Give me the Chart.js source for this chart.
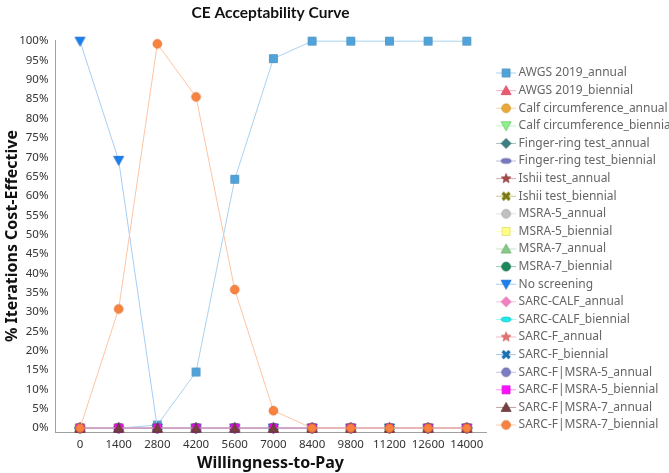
<!DOCTYPE html>
<html>
<head>
<meta charset="utf-8">
<script src="https://cdn.jsdelivr.net/npm/chart.js@4.4.1/dist/chart.umd.min.js"></script>
<style>
  html, body { margin: 0; padding: 0; background: #fff; }
</style>
</head>
<body>
<canvas id="ceac" width="669" height="473"></canvas>
<script>
// Willingness-to-pay thresholds (x axis) and y ticks
const wtpLabels = [0, 1400, 2800, 4200, 5600, 7000, 8400, 9800, 11200, 12600, 14000];
const yTicks = [0, 5, 10, 15, 20, 25, 30, 35, 40, 45, 50, 55, 60, 65, 70, 75, 80, 85, 90, 95, 100];

// % iterations cost-effective per strategy
const awgsAnnual       = [0, 0, 0.8, 14.5, 64.3, 95.5, 100, 100, 100, 100, 100];
const noScreening      = [100, 69.2, 0, 0, 0, 0, 0, 0, 0, 0, 0];
const sarcfMsra7Bien   = [0, 30.8, 99.3, 85.6, 35.8, 4.5, 0, 0, 0, 0, 0];
const neverCE          = [0, 0, 0, 0, 0, 0, 0, 0, 0, 0, 0];

const seriesNames = [
  'AWGS 2019_annual', 'AWGS 2019_biennial', 'Calf circumference_annual', 'Calf circumference_biennial',
  'Finger-ring test_annual', 'Finger-ring test_biennial', 'Ishii test_annual', 'Ishii test_biennial',
  'MSRA-5_annual', 'MSRA-5_biennial', 'MSRA-7_annual', 'MSRA-7_biennial', 'No screening',
  'SARC-CALF_annual', 'SARC-CALF_biennial', 'SARC-F_annual', 'SARC-F_biennial',
  'SARC-F|MSRA-5_annual', 'SARC-F|MSRA-5_biennial', 'SARC-F|MSRA-7_annual', 'SARC-F|MSRA-7_biennial'
];
const seriesValues = [
  awgsAnnual, neverCE, neverCE, neverCE,
  neverCE, neverCE, neverCE, neverCE,
  neverCE, neverCE, neverCE, neverCE, noScreening,
  neverCE, neverCE, neverCE, neverCE,
  neverCE, neverCE, neverCE, sarcfMsra7Bien
];

// marker look: [shape, fill, border, line]
const seriesStyles = [
  ['square',   '#4fa3da', '#3a86b8', '#a9d2ef'],
  ['triangle', '#ec5a72', '#c84058', '#f5b0bc'],
  ['circle',   '#eba83a', '#c88a20', '#f3d6a0'],
  ['invtri',   '#8ef08e', '#5cc05c', '#c6f5c6'],
  ['diamond',  '#3d7f80', '#2a6060', '#9fc0c0'],
  ['ellipse',  '#7878c0', '#5858a0', '#bcbce0'],
  ['star',     '#a84848', '#803030', '#d8a8a8'],
  ['cross',    '#7a7a10', '#7a7a10', '#c8c890'],
  ['circle',   '#c0c0c0', '#a0a0a0', '#e0e0e0'],
  ['square',   '#ffff88', '#d8d860', '#ffffc0'],
  ['triangle', '#88c888', '#60a860', '#c4e4c4'],
  ['circle',   '#1a8a5a', '#106040', '#90c8b0'],
  ['invtri',   '#1a80f0', '#1060c0', '#a8cdf5'],
  ['diamond',  '#f080c0', '#d060a0', '#f8c0e0'],
  ['ellipse',  '#20e8e8', '#10c0c0', '#a0f4f4'],
  ['star',     '#e87070', '#c85050', '#f4b8b8'],
  ['cross',    '#1a70b0', '#1a70b0', '#a0c4e0'],
  ['circle',   '#7c7cc4', '#5c5ca4', '#c0c0e4'],
  ['square',   '#ff10ff', '#d000d0', '#ff90ff'],
  ['triangle', '#744040', '#5a2828', '#c0a0a0'],
  ['circle',   '#f8823e', '#d86a28', '#fcc4a4']
];

// draw one marker shape centred at (0,0)
function drawShape(g, shape, fill, border){
  g.beginPath();
  if(shape === 'square'){
    g.rect(-4, -4, 8, 8);
  } else if(shape === 'triangle'){
    g.moveTo(0, -5); g.lineTo(5, 4); g.lineTo(-5, 4); g.closePath();
  } else if(shape === 'invtri'){
    g.moveTo(0, 5); g.lineTo(5, -4); g.lineTo(-5, -4); g.closePath();
  } else if(shape === 'circle'){
    g.arc(0, 0, 4.4, 0, Math.PI * 2);
  } else if(shape === 'diamond'){
    g.moveTo(0, -5); g.lineTo(5, 0); g.lineTo(0, 5); g.lineTo(-5, 0); g.closePath();
  } else if(shape === 'ellipse'){
    g.ellipse(0, 0, 5, 2.4, 0, 0, Math.PI * 2);
  } else if(shape === 'star'){
    for(let i = 0; i < 10; i++){
      const r = i % 2 ? 2.1 : 5;
      const a = -Math.PI / 2 + i * Math.PI / 5;
      g.lineTo(Math.cos(a) * r, Math.sin(a) * r);
    }
    g.closePath();
  } else if(shape === 'cross'){
    g.moveTo(-3.5, -3.5); g.lineTo(3.5, 3.5);
    g.moveTo(3.5, -3.5); g.lineTo(-3.5, 3.5);
    g.strokeStyle = fill; g.lineWidth = 3.2; g.stroke();
    return;
  }
  g.fillStyle = fill; g.fill();
  g.strokeStyle = border; g.lineWidth = 0.7; g.stroke();
}

function makeMarker(style){
  const c = document.createElement('canvas');
  c.width = 13; c.height = 13;
  const g = c.getContext('2d');
  g.translate(6.5, 6.5);
  drawShape(g, style[0], style[1], style[2]);
  return c;
}

// legend icon: short line with the marker on it (canvas is centred on the legend box)
function makeLegendIcon(style){
  const c = document.createElement('canvas');
  c.width = 28; c.height = 13;
  const g = c.getContext('2d');
  g.strokeStyle = style[3]; g.lineWidth = 1;
  g.beginPath(); g.moveTo(8, 6.5); g.lineTo(28, 6.5); g.stroke();
  g.translate(18, 6.5);
  drawShape(g, style[0], style[1], style[2]);
  return c;
}

const datasets = seriesNames.map((name, i) => ({
  label: name,
  data: seriesValues[i],
  borderColor: seriesStyles[i][3],
  backgroundColor: seriesStyles[i][1],
  borderWidth: 1,
  pointStyle: makeMarker(seriesStyles[i]),
  pointRadius: 5,
  pointHoverRadius: 5,
  tension: 0,
  clip: false,
  order: -i,      // later series drawn on top
  legendIcon: makeLegendIcon(seriesStyles[i])
}));

const ctx = document.getElementById('ceac').getContext('2d');
new Chart(ctx, {
  type: 'line',
  data: { labels: wtpLabels, datasets },
  options: {
    responsive: false,
    animation: false,
    devicePixelRatio: 1,
    layout: { padding: 0 },
    plugins: {
      tooltip: { enabled: false },
      title: {
        display: true,
        text: 'CE Acceptability Curve',
        fullSize: false,
        color: '#111',
        font: { family: 'Lato', size: 15.5, weight: 'bold' },
        padding: { top: 4, bottom: 17.4 }
      },
      legend: {
        position: 'right',
        align: 'start',
        fullSize: true,
        maxWidth: 183,
        title: { display: true, text: ' ', font: { size: 1 }, padding: { top: 60.2, bottom: 0 } },
        labels: {
          usePointStyle: true,
          pointStyleWidth: 21,
          boxHeight: 12,
          padding: 5.6,
          color: '#222',
          font: { family: 'Noto Sans', size: 12 },
          generateLabels: chart => chart.data.datasets.map((ds, i) => ({
            text: ds.label,
            pointStyle: ds.legendIcon,
            fillStyle: ds.backgroundColor,
            strokeStyle: ds.borderColor,
            lineWidth: 0,
            hidden: false,
            datasetIndex: i
          }))
        }
      }
    },
    scales: {
      x: {
        type: 'linear',
        min: -905,
        max: 14695,
        afterBuildTicks: scale => { scale.ticks = wtpLabels.map(v => ({ value: v })); },
        afterFit: scale => { scale.height = 41; },
        grid: { drawOnChartArea: false, drawTicks: false },
        border: { color: '#a0a0a0' },
        ticks: { color: '#333', font: { family: 'Noto Sans', size: 11.5 }, padding: 6, maxRotation: 0, autoSkip: false, callback: v => String(v) },
        title: {
          display: true,
          text: 'Willingness-to-Pay',
          color: '#111',
          font: { family: 'Noto Sans', size: 16, weight: 'bold' },
          padding: { top: 0, bottom: 0.4 }
        }
      },
      y: {
        type: 'linear',
        min: -1,
        max: 100.3,
        afterBuildTicks: scale => { scale.ticks = yTicks.map(v => ({ value: v })); },
        afterFit: scale => { scale.width = 55; },
        grid: { drawOnChartArea: false, drawTicks: false },
        border: { color: '#a0a0a0' },
        ticks: { color: '#333', font: { family: 'Noto Sans', size: 11.5 }, padding: 6.5, callback: v => v + '%' },
        title: {
          display: true,
          text: '% Iterations Cost-Effective',
          color: '#111',
          font: { family: 'Noto Sans', size: 16, weight: 'bold' },
          padding: { top: 3, bottom: 0 }
        }
      }
    }
  }
});
</script>
</body>
</html>
